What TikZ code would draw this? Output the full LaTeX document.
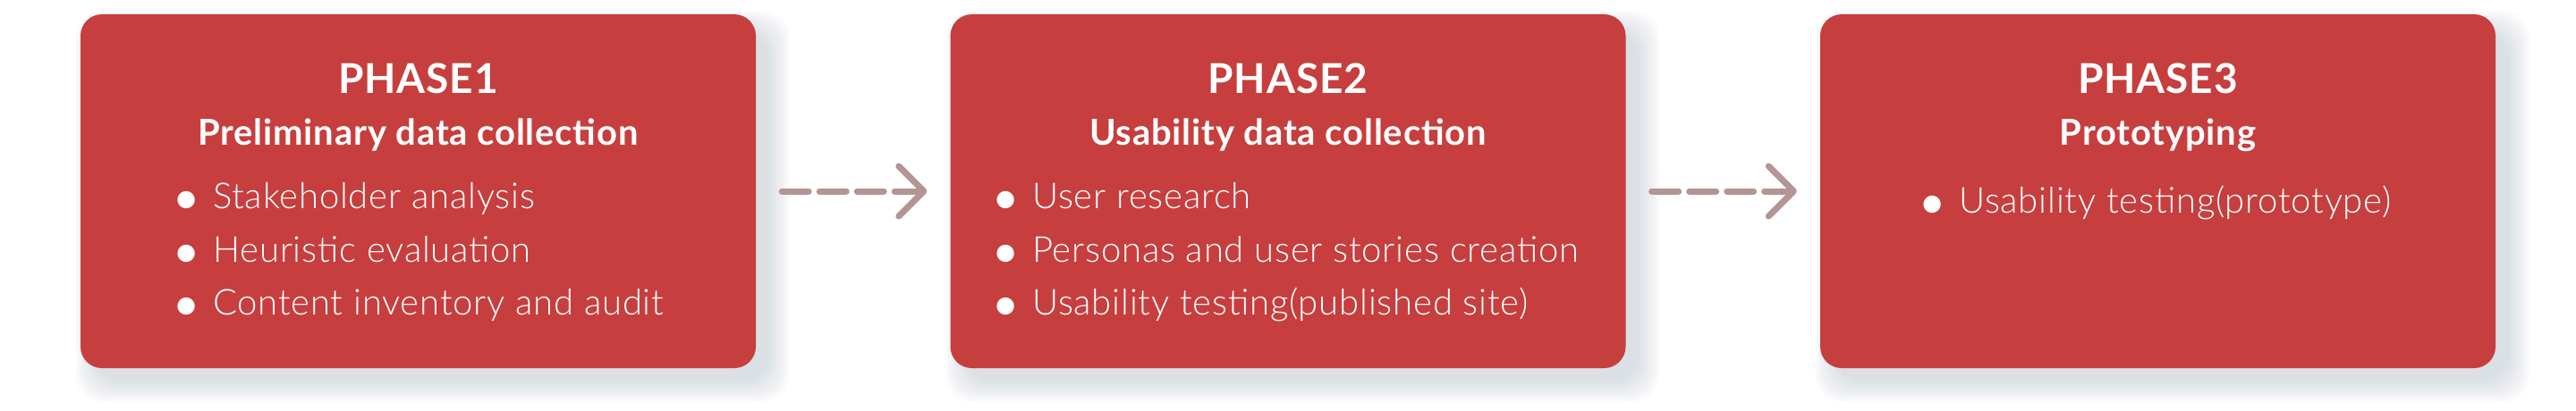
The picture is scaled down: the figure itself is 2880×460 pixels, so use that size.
\documentclass[tikz,border=0pt]{standalone}
\usepackage{fontspec}
\setmainfont{Lato}
\newfontfamily\itemfont[LetterSpace=2]{Lato Light}
\newfontfamily\headfont[LetterSpace=2]{Lato}
\usetikzlibrary{arrows.meta}
\definecolor{boxred}{RGB}{199,62,62}
\definecolor{arrowgray}{RGB}{180,149,147}
\definecolor{shadowgray}{RGB}{120,140,150}
\tikzset{
  phasebox/.style={fill=boxred, rounded corners=24pt, minimum width=755pt, minimum height=396pt, inner sep=0pt},
  shadowlayer/.style={fill=shadowgray, fill opacity=0.02, rounded corners=30pt},
  phasetitle/.style={text=white, font=\fontsize{46}{50}\selectfont\headfont\bfseries, anchor=base, inner sep=0pt},
  phasesub/.style={text=white, font=\fontsize{40}{44}\selectfont\headfont\bfseries, anchor=base, inner sep=0pt},
  phaseitem/.style={text=white, font=\fontsize{40}{44}\selectfont\itemfont, anchor=base west, inner sep=0pt},
  flowarrow/.style={draw=arrowgray, line width=7pt, line cap=round, dash pattern=on 30pt off 12pt,
    -{Straight Barb[length=28pt, width=56pt, line cap=round, line join=round]}, shorten <=29pt, shorten >=26pt}
}
\newcommand{\bul}[1]{\makebox[0pt][c]{\raisebox{-6pt}{\fontsize{52}{52}\selectfont\headfont •}}\hspace{30pt}#1}
\newcommand{\softshadow}[1]{%
  \foreach \k in {0,...,12} {
    \fill[shadowlayer] ({#1-377.5+18-\k*2},{214-198+20-\k*2}) rectangle ({#1+377.5+14+\k*2},{214+198+14+\k*2});
  }}
\begin{document}
\begin{tikzpicture}[x=1pt,y=-1pt]
\useasboundingbox[fill=white] (0,0) rectangle (2880,460);
% shadows
\softshadow{467.5}
\softshadow{1440}
\softshadow{2412.5}
% boxes
\node[phasebox] (b1) at (467.5,214) {};
\node[phasebox] (b2) at (1440,214) {};
\node[phasebox] (b3) at (2412.5,214) {};
% box 1
\node[phasetitle] (t1) at (467.5,104) {PHASE1};
\node[phasesub] (s1) at (467.5,162) {Preliminary data collection};
\node[phaseitem] (i11) at (208,233) {\bul{Stakeholder analysis}};
\node[phaseitem] (i12) at (208,293) {\bul{Heuristic evaluation}};
\node[phaseitem] (i13) at (208,352) {\bul{Content inventory and audit}};
% box 2
\node[phasetitle] (t2) at (1440,104) {PHASE2};
\node[phasesub] (s2) at (1440,162) {Usability data collection};
\node[phaseitem] (i21) at (1124,233) {\bul{User research}};
\node[phaseitem] (i22) at (1124,293) {\bul{Personas and user stories creation}};
\node[phaseitem] (i23) at (1124,352) {\bul{Usability testing(published site)}};
% box 3
\node[phasetitle] (t3) at (2412.5,104) {PHASE3};
\node[phasesub] (s3) at (2412.5,162) {Prototyping};
\node[phaseitem] (i31) at (2160,238) {\bul{Usability testing(prototype)}};
% arrows
\draw[flowarrow] (b1.east) -- (b2.west);
\draw[flowarrow] (b2.east) -- (b3.west);
\end{tikzpicture}
\end{document}
